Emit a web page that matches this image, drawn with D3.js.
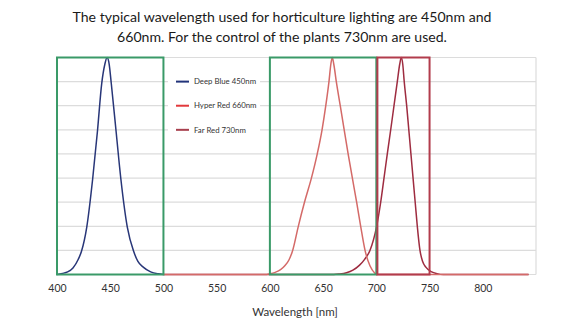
<!DOCTYPE html>
<html>
<head>
<meta charset="utf-8">
<script src="https://cdn.jsdelivr.net/npm/d3@7"></script>
<style>
  html, body { margin: 0; padding: 0; background: #fff; }
  svg { display: block; }
  text { font-family: Lato, "Open Sans", sans-serif; }
</style>
</head>
<body>
<svg id="chart" width="580" height="330"></svg>
<script>
// ---- data ----
const titleLines = [
  "The typical wavelength used for horticulture lighting are 450nm and",
  "660nm. For the control of the plants 730nm are used."
];
const xTicks = [400, 450, 500, 550, 600, 650, 700, 750, 800];
const xLabel = "Wavelength [nm]";
const gridCount = 9;

const blueNm  = [400, 405, 410, 415, 420, 423, 428, 433.5, 438, 442, 445, 447, 449, 451, 455.5, 460, 466, 472, 476, 481, 488, 495, 500];
const blueVal = [0, 0.005, 0.012, 0.03, 0.07, 0.107, 0.22, 0.44, 0.66, 0.88, 0.97, 1, 0.97, 0.88, 0.66, 0.44, 0.22, 0.107, 0.06, 0.034, 0.012, 0.003, 0];

const hyperNm  = [500, 597, 600, 605, 610, 614, 618, 621.4, 626.7, 632.5, 639, 644.5, 649, 652.5, 655.5, 657.3, 658.6, 660, 662.4, 666.1, 669.8, 673.5, 677.5, 681.5, 685.3, 689.4, 694, 698.8, 700, 843];
const hyperVal = [0, 0, 0.003, 0.01, 0.022, 0.04, 0.068, 0.111, 0.222, 0.333, 0.444, 0.556, 0.667, 0.778, 0.889, 0.97, 1, 0.97, 0.889, 0.778, 0.667, 0.556, 0.444, 0.333, 0.222, 0.111, 0.04, 0.005, 0, 0];

const farNm  = [500, 660, 665, 672, 678, 684, 689, 694, 700.3, 704.1, 707.2, 710.3, 713.5, 716.6, 719.7, 722, 723.4, 724.8, 726.2, 728.5, 730.5, 732.5, 734.5, 736.5, 738.5, 741, 743.5, 746.5, 752, 757, 763, 843];
const farVal = [0, 0, 0.002, 0.008, 0.02, 0.042, 0.07, 0.111, 0.222, 0.333, 0.444, 0.556, 0.667, 0.778, 0.889, 0.97, 1, 0.97, 0.889, 0.778, 0.667, 0.556, 0.444, 0.333, 0.222, 0.111, 0.06, 0.034, 0.012, 0.004, 0, 0];

const greenBoxes = [[400, 500], [600, 700]];
const redBoxes = [[701, 750]];

const legendNames = ["Deep Blue 450nm", "Hyper Red 660nm", "Far Red 730nm"];
const legendColors = ["#22337a", "#e2393c", "#a8404e"];

// ---- layout ----
const svg = d3.select("#chart");
const x = d3.scaleLinear().domain([400, 850]).range([57, 536]);
const y = d3.scaleLinear().domain([0, 1]).range([274.5, 57.5]);

// title
svg.append("g").selectAll("text").data(titleLines).join("text")
  .attr("x", 282).attr("y", (d, i) => 22 + i * 20)
  .attr("text-anchor", "middle")
  .attr("font-size", 14.1)
  .attr("fill", "#1a1a1a")
  .text(d => d);

// grid
const gridVals = d3.range(gridCount + 1).map(i => i / gridCount);
svg.append("g").selectAll("line").data(gridVals).join("line")
  .attr("x1", x(400)).attr("x2", x(850))
  .attr("y1", d => y(d)).attr("y2", d => y(d))
  .attr("stroke", "#dcdcdc").attr("stroke-width", 1.2);
svg.append("line")
  .attr("x1", x(850)).attr("x2", x(850))
  .attr("y1", y(1)).attr("y2", y(0))
  .attr("stroke", "#dcdcdc").attr("stroke-width", 1.2);

// legend background + items
const lg = svg.append("g");
lg.append("rect").attr("x", 168).attr("y", 70).attr("width", 92).attr("height", 72).attr("fill", "#fff");
legendNames.forEach((name, i) => {
  const yy = y(1 - (i + 1) / gridCount);
  lg.append("line").attr("x1", 176).attr("x2", 189).attr("y1", yy).attr("y2", yy)
    .attr("stroke", legendColors[i]).attr("stroke-width", 2);
  lg.append("text").attr("x", 194).attr("y", yy + 2.7)
    .attr("font-size", 7.8).attr("fill", "#333").text(name);
});

// curves
const line = d3.line().x(d => x(d[0])).y(d => y(d[1])).curve(d3.curveMonotoneX);
const series = [
  { nm: farNm, v: farVal, color: "#9e2c40" },
  { nm: hyperNm, v: hyperVal, color: "#d46a68" },
  { nm: blueNm, v: blueVal, color: "#283678" }
];
series.forEach(s => {
  svg.append("path").datum(d3.zip(s.nm, s.v)).attr("d", line)
    .attr("fill", "none").attr("stroke", s.color).attr("stroke-width", 1.5);
});

// boxes
svg.append("g").selectAll("rect").data(greenBoxes).join("rect")
  .attr("x", d => x(d[0])).attr("width", d => x(d[1]) - x(d[0]))
  .attr("y", y(1)).attr("height", y(0) - y(1))
  .attr("fill", "none").attr("stroke", "#3a9a68").attr("stroke-width", 2);
svg.append("g").selectAll("rect").data(redBoxes).join("rect")
  .attr("x", d => x(d[0])).attr("width", d => x(d[1]) - x(d[0]))
  .attr("y", y(1)).attr("height", y(0) - y(1))
  .attr("fill", "none").attr("stroke", "#b23c4c").attr("stroke-width", 2);

// x axis labels
const ax = svg.append("g").attr("transform", "translate(0,285)")
  .call(d3.axisBottom(x).tickValues(xTicks).tickSize(0).tickPadding(0));
ax.select(".domain").remove();
ax.selectAll("text").attr("font-size", 10.5).attr("fill", "#333").attr("font-family", "Lato, 'Open Sans', sans-serif");

svg.append("text").attr("x", 295).attr("y", 316).attr("text-anchor", "middle")
  .attr("font-size", 11.5).attr("fill", "#333").text(xLabel);
</script>
</body>
</html>
